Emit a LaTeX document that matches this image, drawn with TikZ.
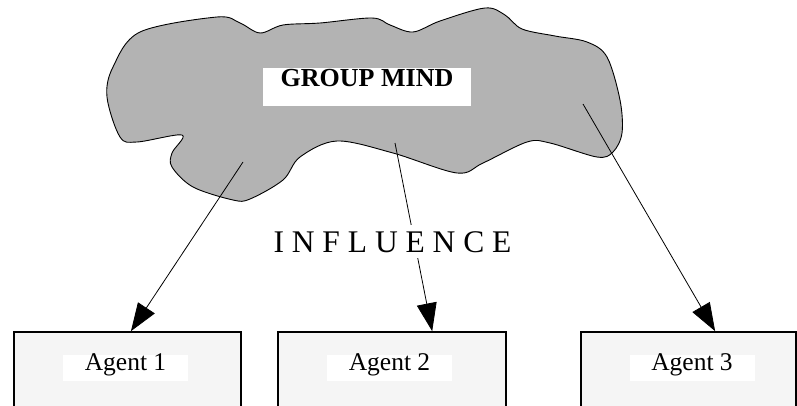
\documentclass[tikz,border=0pt]{standalone}
\usepackage{fontspec}
\setmainfont{Liberation Serif}
\usetikzlibrary{arrows.meta,calc}

\definecolor{cloudgray}{HTML}{B3B3B3}
\definecolor{agentfill}{HTML}{F5F5F5}

\tikzset{
  agentbox/.style={draw=black, line width=1.6pt, fill=agentfill, rectangle,
                   minimum height=120pt, inner sep=0pt},
  agentlabel/.style={fill=white, inner sep=0pt, minimum width=125pt,
                     text height=15pt, text depth=11pt, font=\fontsize{25.5}{25.5}\selectfont,
                     anchor=base},
  influence/.style={-{Triangle[length=28pt,width=20pt]}, line width=0.8pt},
}

\begin{document}
\begin{tikzpicture}[x=1pt, y=-1pt]
  \useasboundingbox (0,0) rectangle (797,406);
  \clip (0,0) rectangle (797,406);

  % the group mind cloud
  \draw[fill=cloudgray, line width=0.9pt]
    plot[smooth cycle, tension=0.55] coordinates {
      (140,32) (217,17) (240,23) (260,33) (283,25) (320,23) (372,18)
      (390,25) (413,32) (440,21) (485,8) (505,15) (522,29) (555,36) (587,42)
      (607,57) (620,100) (622,133) (613,152) (597,157) (550,143) (527,142)
      (483,163) (457,173) (393,153) (337,141) (300,157) (283,180) (250,199)
      (233,200) (193,187) (172,167) (172,153) (182,135) (137,142) (120,137)
      (107,97) (113,67)
    };

  % title of the cloud
  \node[fill=white, inner sep=0pt, minimum width=208pt, text height=19pt,
        text depth=19pt, anchor=base, font=\bfseries\fontsize{26}{26}\selectfont]
        (gm) at (367,87) {GROUP MIND};

  % agents
  \node[agentbox, minimum width=227pt] (a1) at (127.5,392) {};
  \node[agentbox, minimum width=228pt] (a2) at (392,392) {};
  \node[agentbox, minimum width=215pt] (a3) at (688.5,392) {};

  \node[agentlabel] (l1) at (125.5,370) {Agent 1};
  \node[agentlabel] (l2) at (389.5,370) {Agent 2};
  \node[agentlabel] (l3) at (692,370) {Agent 3};

  % arrow origins inside the cloud, arrow targets on the agents
  \coordinate (s1) at (243,162);
  \coordinate (s2) at (395,143);
  \coordinate (s3) at (583,104);
  \coordinate (t1) at ($(a1.north west)!0.515!(a1.north east)$);
  \coordinate (t2) at ($(a2.north west)!0.675!(a2.north east)$);
  \coordinate (t3) at ($(a3.north west)!0.623!(a3.north east)$);

  \draw[influence] (s1) -- (t1);
  \draw[influence] (s2) -- (t2);
  \draw[influence] (s3) -- (t3);

  % label over the middle arrow
  \node[fill=white, inner xsep=0pt, inner ysep=6pt, anchor=base,
        font=\fontsize{31.5}{31.5}\selectfont] (infl) at (392.5,252)
        {I N F L U E N C E};
\end{tikzpicture}
\end{document}
